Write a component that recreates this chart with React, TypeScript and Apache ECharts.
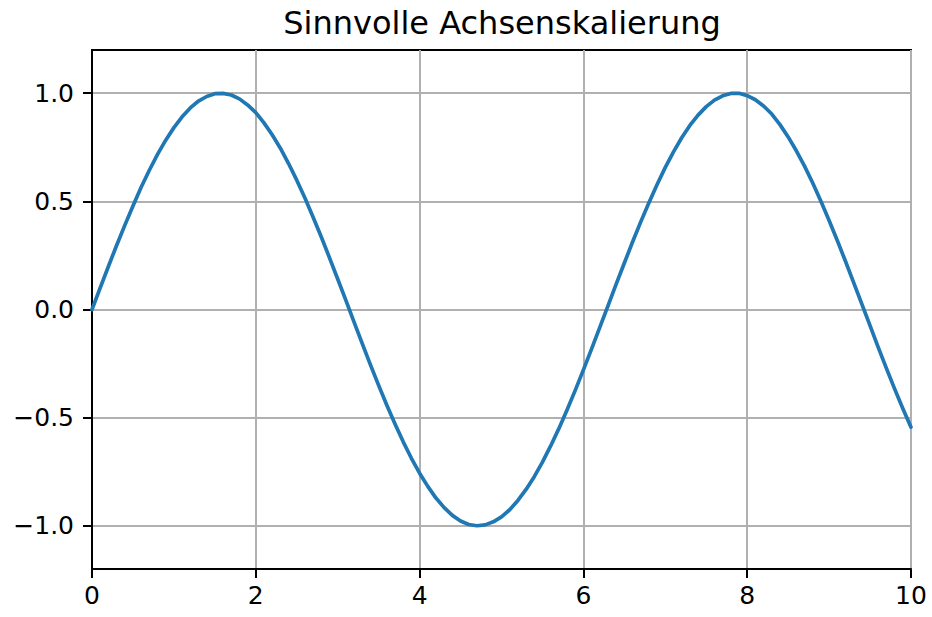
import React, { useEffect, useRef } from "react";
import * as echarts from "echarts";

const xValues = [
  0.0, 0.1, 0.2, 0.3, 0.4, 0.5, 0.6, 0.7, 0.8, 0.9,
  1.0, 1.1, 1.2, 1.3, 1.4, 1.5, 1.6, 1.7, 1.8, 1.9,
  2.0, 2.1, 2.2, 2.3, 2.4, 2.5, 2.6, 2.7, 2.8, 2.9,
  3.0, 3.1, 3.2, 3.3, 3.4, 3.5, 3.6, 3.7, 3.8, 3.9,
  4.0, 4.1, 4.2, 4.3, 4.4, 4.5, 4.6, 4.7, 4.8, 4.9,
  5.0, 5.1, 5.2, 5.3, 5.4, 5.5, 5.6, 5.7, 5.8, 5.9,
  6.0, 6.1, 6.2, 6.3, 6.4, 6.5, 6.6, 6.7, 6.8, 6.9,
  7.0, 7.1, 7.2, 7.3, 7.4, 7.5, 7.6, 7.7, 7.8, 7.9,
  8.0, 8.1, 8.2, 8.3, 8.4, 8.5, 8.6, 8.7, 8.8, 8.9,
  9.0, 9.1, 9.2, 9.3, 9.4, 9.5, 9.6, 9.7, 9.8, 9.9,
  10.0,
];
const yValues = [
  0.0, 0.0998, 0.199, 0.296, 0.389, 0.479, 0.565, 0.644, 0.717, 0.783,
  0.841, 0.891, 0.932, 0.964, 0.985, 0.998, 0.9995, 0.992, 0.974, 0.946,
  0.91, 0.863, 0.808, 0.746, 0.675, 0.598, 0.516, 0.427, 0.335, 0.239,
  0.141, 0.042, -0.058, -0.158, -0.256, -0.351, -0.443, -0.53, -0.612, -0.688,
  -0.757, -0.818, -0.872, -0.916, -0.952, -0.978, -0.994, -1.0, -0.996, -0.982,
  -0.959, -0.926, -0.883, -0.832, -0.773, -0.706, -0.631, -0.551, -0.465, -0.374,
  -0.279, -0.182, -0.083, 0.017, 0.117, 0.215, 0.312, 0.405, 0.494, 0.578,
  0.657, 0.729, 0.794, 0.851, 0.899, 0.938, 0.968, 0.988, 0.999, 0.9996,
  0.989, 0.97, 0.941, 0.904, 0.855, 0.798, 0.734, 0.663, 0.585, 0.501,
  0.412, 0.319, 0.223, 0.124, 0.025, -0.075, -0.175, -0.272, -0.367, -0.458,
  -0.544,
];
const xTicks = [0, 2, 4, 6, 8, 10];
const yTicks = [-1.0, -0.5, 0.0, 0.5, 1.0];
const titleText = "Sinnvolle Achsenskalierung";

const FONT = "DejaVu Sans";

export default function App() {
  const ref = useRef<HTMLDivElement>(null);
  useEffect(() => {
    if (!ref.current) return;
    const chart = echarts.init(ref.current, null, { renderer: "svg" });
    const fmtY = (v: number) => {
      const s = Math.abs(v).toFixed(1);
      return v < -1e-9 ? "\u2212" + s : s;
    };
    chart.setOption({
      animation: false,
      backgroundColor: "#ffffff",
      title: {
        text: titleText,
        left: 497,
        textAlign: "center",
        top: 2,
        textStyle: { fontFamily: FONT, fontSize: 32, fontWeight: "normal", color: "#000" },
      },
      grid: {
        left: 92,
        right: 21,
        top: 50,
        bottom: 48,
        show: true,
        borderColor: "#000",
        borderWidth: 2,
        backgroundColor: "transparent",
      },
      xAxis: {
        type: "value",
        min: 0,
        max: 10,
        interval: 2,
        axisLine: { show: true, onZero: false, lineStyle: { color: "#000", width: 2 } },
        axisTick: { show: true, length: 9, inside: false, lineStyle: { color: "#000", width: 2 }, customValues: xTicks },
        axisLabel: { fontFamily: FONT, fontSize: 25, color: "#000", margin: 14, customValues: xTicks, showMinLabel: true, showMaxLabel: true },
        splitLine: { show: true, lineStyle: { color: "#b0b0b0", width: 2 } },
      },
      yAxis: {
        type: "value",
        min: -1.2,
        max: 1.2,
        axisLine: { show: true, onZero: false, lineStyle: { color: "#000", width: 2 } },
        axisTick: { show: true, length: 9, inside: false, lineStyle: { color: "#000", width: 2 }, customValues: yTicks },
        axisLabel: { fontFamily: FONT, fontSize: 25, color: "#000", margin: 18, customValues: yTicks, formatter: fmtY },
        splitLine: { show: true, lineStyle: { color: "#b0b0b0", width: 2 } },
      },
      series: [
        {
          type: "line",
          data: xValues.map((x, i) => [x, yValues[i]]),
          smooth: false,
          showSymbol: false,
          lineStyle: { color: "#1f77b4", width: 3.7, join: "round", cap: "round" },
          clip: true,
        },
      ],
    });
    return () => chart.dispose();
  }, []);
  return <div ref={ref} style={{ width: 932, height: 617, position: "absolute", left: 0, top: 0 }} />;
}
